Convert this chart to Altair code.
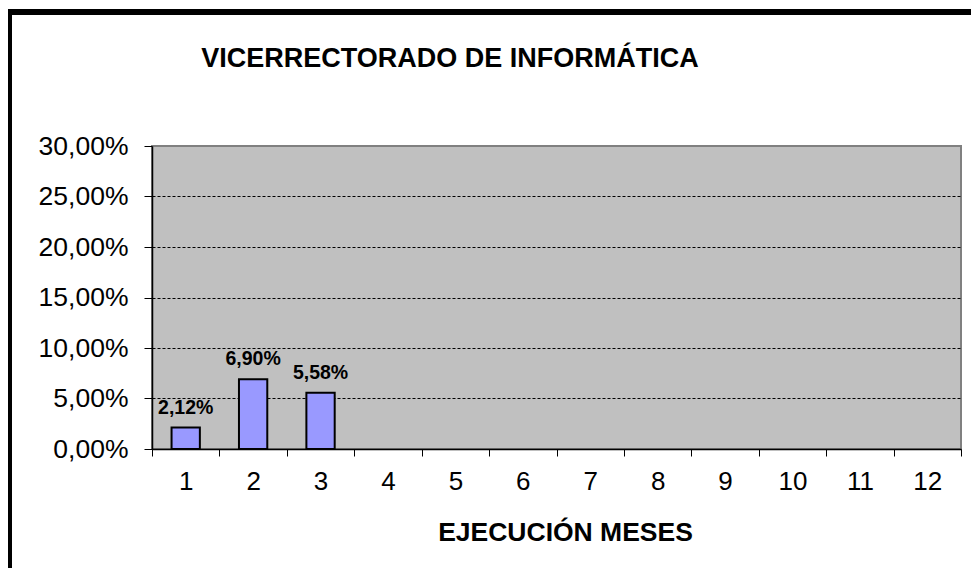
import altair as alt
import pandas as pd

months = [1, 2, 3]
values = [0.0212, 0.0690, 0.0558]
all_months = [1, 2, 3, 4, 5, 6, 7, 8, 9, 10, 11, 12]
y_ticks = [0, 0.05, 0.10, 0.15, 0.20, 0.25, 0.30]

title_text = "VICERRECTORADO DE INFORMÁTICA"
x_title = "EJECUCIÓN MESES"

FONT = "Liberation Sans"

df = pd.DataFrame({"mes": months, "valor": values})

base = alt.Chart(df).transform_calculate(
    etiqueta="replace(format(datum.valor, '.2%'), '.', ',')",
)

x_scale = alt.Scale(domain=all_months, paddingInner=0, paddingOuter=0)
y_scale = alt.Scale(domain=[0, 0.30], nice=False)

bars = base.mark_bar(
    fill="#9999FF", stroke="black", strokeWidth=2, width=alt.RelativeBandSize(0.42)
).encode(
    x=alt.X(
        "mes:O",
        scale=x_scale,
        title=x_title,
        axis=alt.Axis(
            labelAngle=0,
            tickBand="extent",
            tickSize=7,
            tickColor="black",
            tickWidth=1,
            domainColor="black",
            domainWidth=1.5,
            labelFont=FONT,
            labelFontSize=26,
            labelColor="black",
            labelPadding=12,
            grid=False,
            titleFont=FONT,
            titleFontSize=26.5,
            titleFontWeight="bold",
            titleColor="black",
            titleBaseline="alphabetic",
            titleX=413,
            titleY=91,
        ),
    ),
    y=alt.Y(
        "valor:Q",
        scale=y_scale,
        title=None,
        axis=alt.Axis(
            values=y_ticks,
            labelExpr="replace(format(datum.value, '.2%'), '.', ',')",
            tickSize=8,
            tickColor="black",
            domainColor="black",
            domainWidth=1.5,
            labelFont=FONT,
            labelFontSize=26.5,
            labelColor="black",
            labelPadding=16,
            grid=True,
            gridColor="black",
            gridDash=[3, 2],
            gridWidth=1,
            gridOpacity={"expr": "datum.value >= 0.3 ? 0 : 1"},
        ),
    ),
)

labels = base.mark_text(
    font=FONT, fontSize=19.5, fontWeight="bold", color="black",
    baseline="alphabetic", align="center", dy=-14,
).encode(
    x=alt.X("mes:O", scale=x_scale),
    y=alt.Y("valor:Q", scale=y_scale),
    text="etiqueta:N",
)

one_row = alt.Data(values=[{"t": title_text}])
title_mark = alt.Chart(one_row).mark_text(
    font=FONT, fontSize=27, fontWeight="bold", color="black",
    align="center", baseline="alphabetic",
).encode(x=alt.value(298), y=alt.value(-79), text="t:N")

top_border = alt.Chart(one_row).mark_rule(color="black", strokeWidth=6).encode(
    x=alt.value(-150), x2=alt.value(830), y=alt.value(-134)
)
left_border = alt.Chart(one_row).mark_rule(color="black", strokeWidth=4).encode(
    x=alt.value(-142), y=alt.value(-137), y2=alt.value(430)
)

chart = alt.layer(bars, labels, title_mark, top_border, left_border).properties(
    width=809,
    height=303,
    padding={"left": 144, "top": 138, "right": 10, "bottom": 119},
    autosize=alt.AutoSizeParams(type="none"),
    background="white",
).configure_view(
    fill="#C0C0C0", stroke="#808080", strokeWidth=2
)

chart.save("out.html", embed_options={"renderer": "svg", "actions": False})
